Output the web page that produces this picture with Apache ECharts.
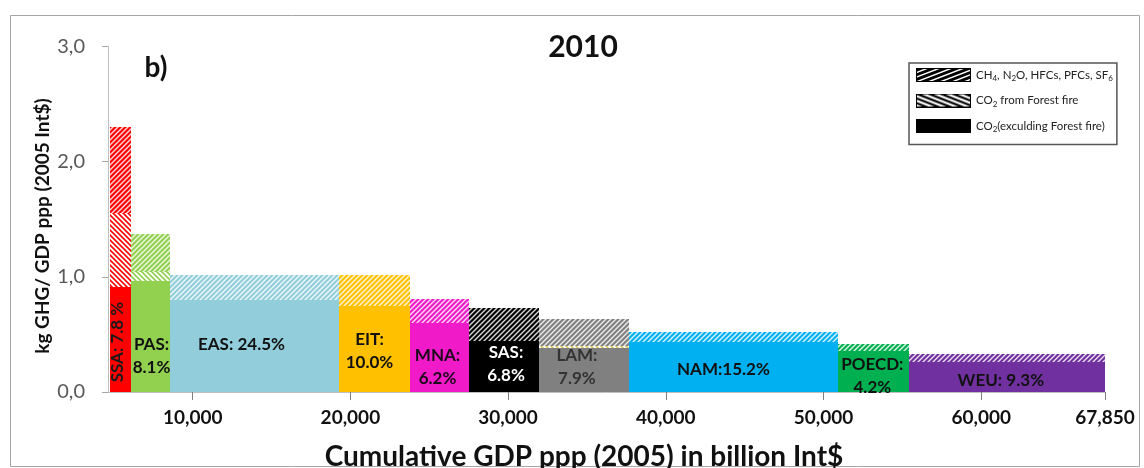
<!DOCTYPE html>
<html>
<head>
<meta charset="utf-8">
<title>GHG intensity by region, 2010</title>
<script src="https://cdn.jsdelivr.net/npm/echarts@6.0.0/dist/echarts.min.js"></script>
<style>
  html, body { margin: 0; padding: 0; background: #fff; }
  #chart { width: 1144px; height: 468px; }
</style>
</head>
<body>
<div id="chart"></div>
<script>
// Regions in order along the cumulative GDP axis
const regions = ['SSA', 'PAS', 'EAS', 'EIT', 'MNA', 'SAS', 'LAM', 'NAM', 'POECD', 'WEU'];
// Bar labels (region and its share of emissions)
const regionLabels = ['SSA: 7.8 %', 'PAS:\n8.1%', 'EAS: 24.5%', 'EIT:\n10.0%', 'MNA:\n6.2%',
                      'SAS:\n6.8%', 'LAM:\n7.9%', 'NAM:15.2%', 'POECD:\n4.2%', 'WEU: 9.3%'];
// Cumulative GDP ppp (billion Int$) at each bar edge
const gdpEdges = [4760, 6090, 8560, 19280, 23780, 27520, 31960, 37660, 50920, 55400, 67850];
// kg GHG per GDP ppp, by component
const co2Fossil = [0.91, 0.96, 0.80, 0.75, 0.60, 0.44, 0.38, 0.43, 0.36, 0.26];
const co2Fire   = [0.64, 0.08, 0.00, 0.00, 0.00, 0.00, 0.02, 0.00, 0.00, 0.00];
const otherGhg  = [0.75, 0.33, 0.22, 0.27, 0.21, 0.29, 0.23, 0.09, 0.06, 0.07];
// Axis ticks
const xTicks = [10000, 20000, 30000, 40000, 50000, 60000, 67850];
const yTicks = [0, 1, 2, 3];

const seriesNames = ['CH4, N2O, HFCs, PFCs, SF6', 'CO2 from Forest fire', 'CO2(exculding Forest fire)'];

// Styling
const regionColors = ['#ff0000', '#92d050', '#92cddc', '#ffc000', '#f01ac8',
                      '#000000', '#808080', '#00b0f0', '#00b050', '#7030a0'];
const labelColors = ['#1a1a1a', '#111', '#111', '#111', '#1a0a1a',
                     '#ffffff', '#333333', '#111', '#111', '#111'];
// Label placement inside each bar: pixel shift from bar centre, anchor value on y
const labelLayout = [
  { dx: -3, y: 0.434, rotate: true },
  { dx: 1, y: 0.313 },
  { dx: -13, y: 0.408 },
  { dx: -5, y: 0.352 },
  { dx: -2, y: 0.220 },
  { dx: 2, y: 0.243 },
  { dx: -7, y: 0.217 },
  { dx: -10, y: 0.191 },
  { dx: -1, y: 0.139 },
  { dx: -6, y: 0.104 }
];

const FONT = 'Lato, "Open Sans", sans-serif';

// Diagonal hatch tile; dir '/' or '\\'
function hatchTile(bg, fg, dir, lw, p) {
  const c = document.createElement('canvas');
  c.width = p; c.height = p;
  const g = c.getContext('2d');
  g.fillStyle = bg; g.fillRect(0, 0, p, p);
  g.strokeStyle = fg; g.lineWidth = lw;
  g.beginPath();
  if (dir === '/') {
    g.moveTo(0, p); g.lineTo(p, 0);
    g.moveTo(-1, 1); g.lineTo(1, -1);
    g.moveTo(p - 1, p + 1); g.lineTo(p + 1, p - 1);
  } else {
    g.moveTo(0, 0); g.lineTo(p, p);
    g.moveTo(-1, p - 1); g.lineTo(1, p + 1);
    g.moveTo(p - 1, -1); g.lineTo(p + 1, 1);
  }
  g.stroke();
  return { image: c, repeat: 'repeat' };
}

const otherFill = regionColors.map(c => hatchTile(c, 'rgba(255,255,255,0.85)', '/', 1.4, 5));
const fireFill = regionColors.map((c, i) => hatchTile('#ffffff', i === 6 ? '#d9c766' : c, '\\', 1.6, 5));
const fossilFill = regionColors.slice();

// Legend swatches, stretched stripes
function swatch(kind) {
  const w = 55, h = 14;
  const c = document.createElement('canvas');
  c.width = w; c.height = h;
  const g = c.getContext('2d');
  g.fillStyle = kind === 'fire' ? '#ffffff' : '#000000';
  g.fillRect(0, 0, w, h);
  if (kind !== 'solid') {
    g.strokeStyle = kind === 'fire' ? '#000' : '#fff';
    g.lineWidth = kind === 'fire' ? 2.2 : 1.4;
    g.beginPath();
    for (let x = -60; x < w + 60; x += 12) {
      if (kind === 'fire') { g.moveTo(x, 0); g.lineTo(x + 36, h); }
      else { g.moveTo(x, h); g.lineTo(x + 36, 0); }
    }
    g.stroke();
  }
  g.strokeStyle = '#000'; g.lineWidth = 1;
  g.strokeRect(0.5, 0.5, w - 1, h - 1);
  return 'image://' + c.toDataURL();
}

function layerData(values, bases) {
  return regions.map((r, i) => [gdpEdges[i], gdpEdges[i + 1], bases[i], bases[i] + values[i], i]);
}
const base0 = regions.map(() => 0);
const base1 = co2Fossil.slice();
const base2 = co2Fossil.map((v, i) => v + co2Fire[i]);

function rectRenderer(fills) {
  return function (params, api) {
    const x0 = api.value(0), x1 = api.value(1), y0 = api.value(2), y1 = api.value(3);
    const idx = api.value(4);
    if (y1 - y0 <= 0) return null;
    const a = api.coord([x0, y0]);
    const b = api.coord([x1, y1]);
    const left = Math.round(a[0]), right = Math.round(b[0]);
    const top = Math.round(b[1]), bottom = Math.round(a[1]);
    return {
      type: 'rect',
      shape: { x: left, y: top, width: right - left, height: bottom - top },
      style: { fill: fills[idx] }
    };
  };
}

function layerSeries(name, values, bases, fills) {
  return {
    type: 'custom',
    name: name,
    renderItem: rectRenderer(fills),
    encode: { x: [0, 1], y: [2, 3] },
    data: layerData(values, bases),
    silent: true
  };
}

const labelSeries = {
  type: 'custom',
  name: 'labels',
  z: 5,
  silent: true,
  encode: { x: 0, y: 1 },
  data: regions.map((r, i) => [(gdpEdges[i] + gdpEdges[i + 1]) / 2, labelLayout[i].y, i]),
  renderItem: function (params, api) {
    const i = api.value(2);
    const p = api.coord([api.value(0), api.value(1)]);
    const lay = labelLayout[i];
    return {
      type: 'text',
      x: p[0] + lay.dx,
      y: p[1],
      rotation: lay.rotate ? Math.PI / 2 : 0,
      style: {
        text: regionLabels[i],
        fill: labelColors[i],
        fontFamily: FONT,
        fontWeight: 'bold',
        fontSize: 17,
        lineHeight: 23,
        align: 'center',
        verticalAlign: 'middle'
      }
    };
  }
};

const chart = echarts.init(document.getElementById('chart'), null, { renderer: 'canvas' });

const richSub = { fontSize: 8, fontFamily: FONT, color: '#222', verticalAlign: 'bottom', padding: [7, 0, 0, 0] };

chart.setOption({
  animation: false,
  textStyle: { fontFamily: FONT },
  grid: { left: 108, right: 39, top: 46.5, bottom: 76 },
  legend: {
    left: 909,
    top: 63,
    orient: 'vertical',
    selectedMode: false,
    itemWidth: 55,
    itemHeight: 14,
    itemGap: 11,
    padding: [5, 4, 11, 7],
    borderColor: '#555',
    borderWidth: 1.5,
    backgroundColor: '#fff',
    data: [
      { name: seriesNames[0], icon: swatch('other') },
      { name: seriesNames[1], icon: swatch('fire') },
      { name: seriesNames[2], icon: swatch('solid') }
    ],
    formatter: function (name) {
      if (name === seriesNames[0]) return 'CH{s|4}, N{s|2}O, HFCs, PFCs, SF{s|6}';
      if (name === seriesNames[1]) return 'CO{s|2} from Forest fire';
      return 'CO{s|2}(exculding Forest fire)';
    },
    textStyle: {
      fontFamily: FONT, fontSize: 11.5, color: '#222',
      rich: { s: richSub }
    }
  },
  xAxis: {
    type: 'value',
    min: 4630,
    max: 67850,
    splitLine: { show: false },
    axisLine: { show: true, lineStyle: { color: '#bfbfbf', width: 1 } },
    axisTick: { show: true, customValues: xTicks, length: 8, lineStyle: { color: '#7f7f7f' } },
    axisLabel: {
      customValues: xTicks,
      margin: 16,
      showMaxLabel: true,
      showMinLabel: true,
      color: '#111',
      fontFamily: FONT,
      fontWeight: 'bold',
      fontSize: 19,
      formatter: v => Number(v).toLocaleString('en-US')
    }
  },
  yAxis: {
    type: 'value',
    min: 0,
    max: 3,
    interval: 1,
    splitLine: { show: false },
    axisLine: { show: true, lineStyle: { color: '#bfbfbf', width: 1 } },
    axisTick: { show: true, length: 6, lineStyle: { color: '#a6a6a6' } },
    axisLabel: {
      margin: 23,
      color: '#595959',
      fontFamily: FONT,
      fontSize: 20,
      formatter: v => yTicks.includes(v) ? v.toFixed(1).replace('.', ',') : ''
    }
  },
  graphic: [
    {
      type: 'rect', z: -10, silent: true,
      shape: { x: 10.5, y: 15.5, width: 1129, height: 451 },
      style: { fill: 'none', stroke: '#a6a6a6', lineWidth: 1 }
    },
    {
      type: 'text', x: 583, y: 47, silent: true,
      style: { text: '2010', fontFamily: FONT, fontWeight: 'bold', fontSize: 30, fill: '#111', align: 'center', verticalAlign: 'middle' }
    },
    {
      type: 'text', x: 156, y: 68, silent: true,
      style: { text: 'b)', fontFamily: FONT, fontWeight: 'bold', fontSize: 28, fill: '#111', align: 'center', verticalAlign: 'middle' }
    },
    {
      type: 'text', x: 43, y: 226, rotation: Math.PI / 2, silent: true,
      style: { text: 'kg GHG/ GDP ppp (2005 Int$)', fontFamily: FONT, fontWeight: 'bold', fontSize: 19, fill: '#111', align: 'center', verticalAlign: 'middle' }
    },
    {
      type: 'text', x: 584, y: 457, silent: true, z: 10,
      style: { text: 'Cumulative GDP ppp (2005) in billion Int$', fontFamily: FONT, fontWeight: 'bold', fontSize: 28, fill: '#111', align: 'center', verticalAlign: 'middle' }
    }
  ],
  series: [
    layerSeries(seriesNames[2], co2Fossil, base0, fossilFill),
    layerSeries(seriesNames[1], co2Fire, base1, fireFill),
    layerSeries(seriesNames[0], otherGhg, base2, otherFill),
    labelSeries
  ]
});
</script>
</body>
</html>
